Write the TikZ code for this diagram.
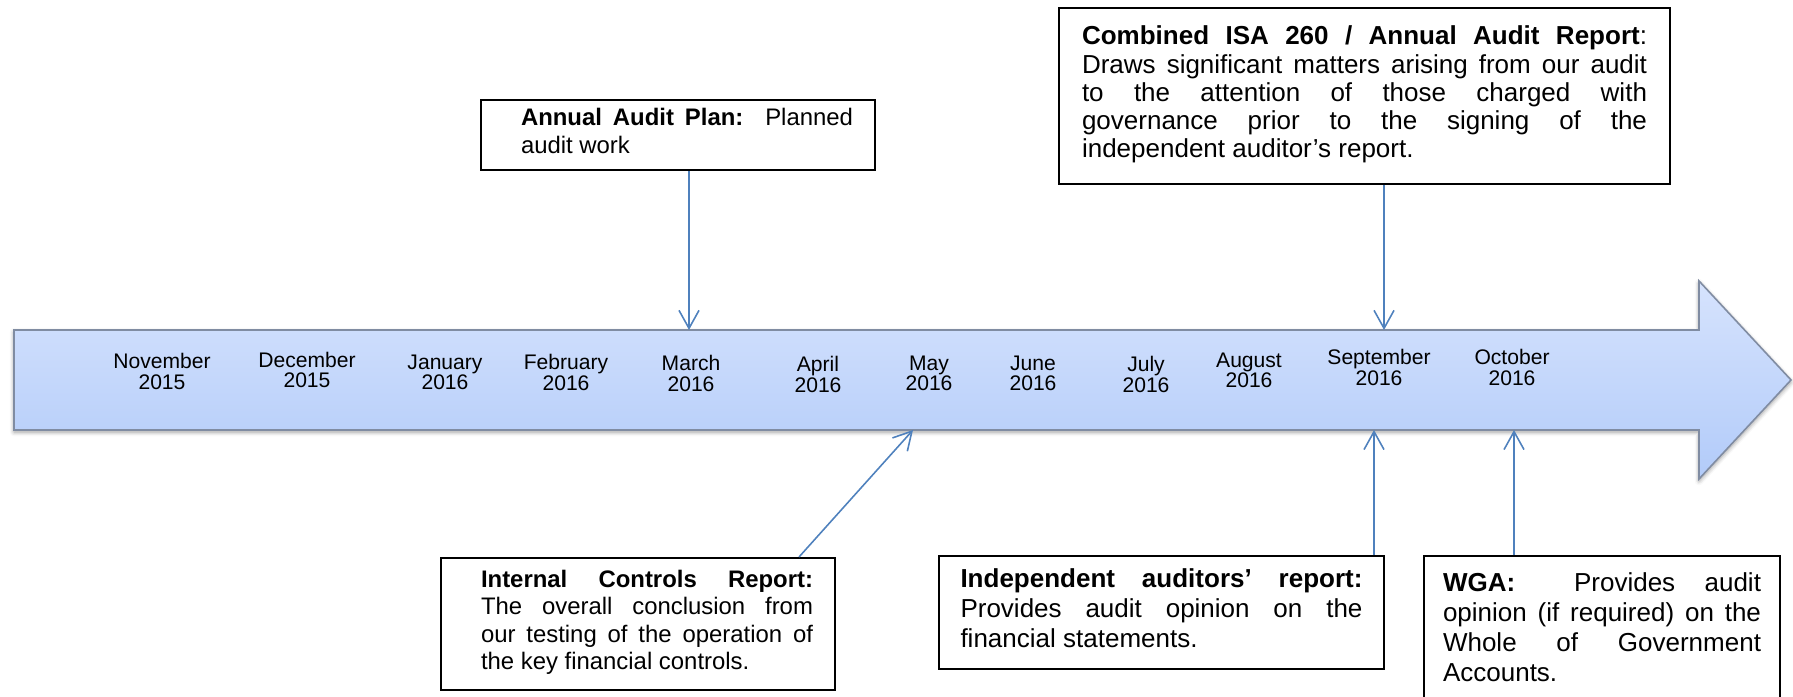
\documentclass[tikz,border=0pt]{standalone}
\usepackage{fontspec}
\setmainfont{Liberation Sans}
\usetikzlibrary{arrows.meta,shadows.blur}

\definecolor{barfill}{RGB}{214,227,253}
\definecolor{barfilldark}{RGB}{178,203,249}
\definecolor{barline}{RGB}{128,140,162}
\definecolor{linkblue}{RGB}{79,129,189}

\tikzset{>={Straight Barb[length=1.8mm,width=2mm]}}
\tikzset{
    month/.style={align=center, inner sep=0pt, font=\fontsize{6}{5.8}\selectfont},
    note/.style={draw=black, line width=0.6pt, fill=white, align=justify, inner ysep=0pt},
    link/.style={->, linkblue, line width=0.45pt},
}
% text indented from the left edge of its box
\newcommand{\indentedtext}[1]{\hspace*{0.18cm}\parbox[t]{3.32cm}{#1}}

\begin{document}
\begin{tikzpicture}

    \clip[use as bounding box] (0,0) rectangle (17.93,6.97);

    % the timeline arrow
    \draw [barline, line width=0.45pt, top color=barfill, bottom color=barfilldark,
        blur shadow={shadow xshift=0pt, shadow yshift=-0.6pt, shadow blur radius=1.2pt, shadow opacity=40}]
        (0.14,2.67) -- (0.14,3.67) -- (16.99,3.67) -- (16.99,4.16) -- (17.91,3.17)
        -- (16.99,2.18) -- (16.99,2.67) -- cycle;

    \foreach \x/\y/\m/\yr [count=\i] in {1.62/3.255/November/2015, 3.07/3.27/December/2015,
        4.45/3.245/January/2016, 5.66/3.245/February/2016, 6.91/3.235/March/2016,
        8.18/3.225/April/2016, 9.29/3.235/May/2016, 10.33/3.235/June/2016,
        11.46/3.225/July/2016, 12.49/3.265/August/2016, 13.79/3.295/September/2016,
        15.12/3.295/October/2016}
    {
        \node[month] (m\i) at (\x,\y) {\m\\\yr};
    }

    % reports above the timeline
    \node[note, text width=3.50cm, inner xsep=0.22cm, minimum height=0.70cm,
        font=\fontsize{6.8}{7.85}\selectfont] (plan) at (6.78,5.62)
        {\indentedtext{\textbf{Annual Audit Plan:}\ \ Planned\linebreak audit work\strut}};

    \node[note, text width=5.65cm, inner xsep=0.23cm, minimum height=1.76cm,
        font=\fontsize{7.4}{8}\selectfont] (isa) at (13.645,6.01)
        {\textbf{Combined ISA 260 / Annual Audit Report}: Draws significant matters arising from our audit\linebreak
        to the attention of those charged with\linebreak governance prior to the signing of the\linebreak
        independent auditor’s report.\strut};

    % reports below the timeline
    \node[note, text width=3.50cm, inner xsep=0.22cm, minimum height=1.32cm,
        font=\fontsize{6.8}{7.85}\selectfont] (ic) at (6.38,0.73)
        {\indentedtext{\textbf{Internal Controls Report:}\linebreak The overall conclusion from\linebreak
        our testing of the operation of\linebreak the key financial controls.\strut}};

    \node[note, text width=4.02cm, inner xsep=0.215cm, minimum height=1.13cm,
        font=\fontsize{7.4}{8.6}\selectfont] (iar) at (11.615,0.845)
        {\textbf{Independent auditors’ report:}\linebreak Provides audit opinion on the\linebreak
        financial statements.\strut};

    \node[note, text width=3.18cm, inner xsep=0.19cm, minimum height=1.51cm,
        font=\fontsize{7.4}{8.6}\selectfont] (wga) at (16.02,0.655)
        {\textbf{WGA:}\ \ Provides audit\linebreak opinion (if required) on the\linebreak
        Whole of Government\linebreak Accounts.\strut};

    \coordinate (tmar) at (6.89,3.67);
    \coordinate (tsep) at (13.84,3.67);
    \coordinate (bmay) at (9.13,2.67);
    \coordinate (bsep) at (13.74,2.67);
    \coordinate (boct) at (15.14,2.67);

    \draw[link] (plan.south -| tmar) -- (tmar);
    \draw[link] (isa.south -| tsep) -- (tsep);
    \draw[link] ([xshift=-0.37cm]ic.north east) -- (bmay);
    \draw[link] (iar.north -| bsep) -- (bsep);
    \draw[link] (wga.north -| boct) -- (boct);

\end{tikzpicture}
\end{document}
